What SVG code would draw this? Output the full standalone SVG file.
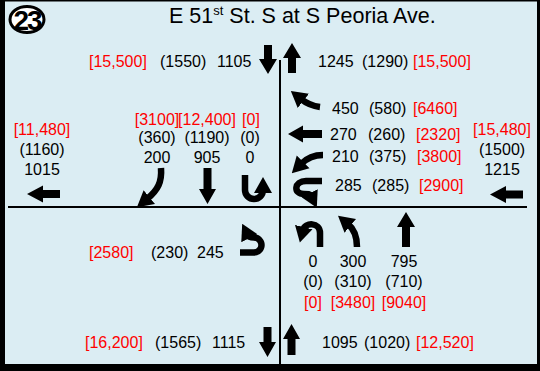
<svg xmlns="http://www.w3.org/2000/svg" width="540" height="371" viewBox="0 0 540 371">
<style>
text{font-family:"Liberation Sans",Arial,Helvetica,sans-serif;font-size:16px;fill:#000}
.r{fill:#ff0000}
.m{text-anchor:middle}
.curve{fill:none;stroke:#000;stroke-width:6.5;marker-end:url(#ah)}
.sa{fill:#000}
.rd{stroke:#000;stroke-width:2;fill:none}
</style>
<defs>
<marker id="ah" markerUnits="userSpaceOnUse" viewBox="0 0 16 18" markerWidth="16" markerHeight="19" refX="3" refY="9" orient="auto">
<path d="M0,0 L16,9 L0,18 z" fill="#000"/>
</marker>
</defs>
<rect x="0" y="0" width="540" height="371" fill="#000"/>
<rect x="5" y="1.5" width="532" height="362.5" fill="#dbedf3"/>
<g id="badge">
<ellipse cx="27" cy="19.5" rx="17" ry="13" fill="#fff" stroke="#000" stroke-width="3"/>
<text x="27" y="30" class="m" style="font-size:28px;font-weight:bold;letter-spacing:-2px">23</text>
</g>
<g id="title">
<text x="169" y="23" style="font-size:21.5px">E 51<tspan style="font-size:13px" dy="-8">st</tspan><tspan dy="8"> St. S at S Peoria Ave.</tspan></text>
</g>
<g id="connectors">
<line class="rd" x1="280" y1="60" x2="280" y2="364"/>
<line class="rd" x1="8" y1="207" x2="527" y2="207"/>
<polygon class="sa" points="264,45 272,45 272,59 277,59 268,74 259,59 264,59"/>
<polygon class="sa" points="292,43 301,58 296,58 296,73 288,73 288,58 283,58"/>
<polygon class="sa" points="263.5,327 271.5,327 271.5,342 276,342 267.5,357 259,342 263.5,342"/>
<polygon class="sa" points="291.5,324 300,339 295.5,339 295.5,355 287.5,355 287.5,339 283,339"/>
<polygon class="sa" points="27,194 43,185.5 43,190 60,190 60,198 43,198 43,202.5"/>
<polygon class="sa" points="490,194.5 506,186 506,190.5 523,190.5 523,198.5 506,198.5 506,203"/>
<polygon class="sa" points="288,134 303,125.5 303,130 322,130 322,138 303,138 303,142.5"/>
<polygon class="sa" points="203.5,168 211.5,168 211.5,189 216,189 207.5,204 199,189 203.5,189"/>
<polygon class="sa" points="406,212 415,227 410,227 410,247 402,247 402,227 397,227"/>
<path class="curve" d="M161,168 C162,182 158,190 147,199"/>
<path class="curve" d="M245,175 L245,190 A9,9 0 0 0 263,190"/>
<path class="curve" d="M320,107 C312,106 306,103 301,99"/>
<path class="curve" d="M323,155 C315,155 307,158 301,164"/>
<path class="curve" d="M322,181 L306,181 C294,181 293,194 304,194 C308,194 310,194 311,196"/>
<path class="curve" d="M240,252.5 L254,252.5 A7.5,7.5 0 0 0 254,237.5 Q249,237.5 248,235.5"/>
<path class="curve" d="M320,247 L320,233 C320,222 305,222 303,230"/>
<path class="curve" d="M357,247 C357,236 354,229 348,224"/>
</g>
<g id="north-labels">
<text x="89" y="67" class="r">[15,500]</text>
<text x="160" y="67">(1550)</text>
<text x="217" y="67">1105</text>
<text x="318" y="67">1245</text>
<text x="362" y="67">(1290)</text>
<text x="413" y="67" class="r">[15,500]</text>
</g>
<g id="west-depart">
<text x="42" y="135" class="m r">[11,480]</text>
<text x="42" y="155" class="m">(1160)</text>
<text x="42" y="175" class="m">1015</text>
</g>
<g id="east-depart">
<text x="502" y="135" class="m r">[15,480]</text>
<text x="502" y="155" class="m">(1500)</text>
<text x="502" y="175" class="m">1215</text>
</g>
<g id="sb-approach">
<text x="157" y="125" class="m r">[3100]</text>
<text x="207" y="125" class="m r">[12,400]</text>
<text x="251" y="125" class="m r">[0]</text>
<text x="157" y="143" class="m">(360)</text>
<text x="207" y="143" class="m">(1190)</text>
<text x="250" y="143" class="m">(0)</text>
<text x="157" y="163" class="m">200</text>
<text x="207" y="163" class="m">905</text>
<text x="250" y="163" class="m">0</text>
</g>
<g id="wb-approach">
<text x="332" y="114">450</text>
<text x="369" y="114">(580)</text>
<text x="413" y="114" class="r">[6460]</text>
<text x="330" y="140">270</text>
<text x="368" y="140">(260)</text>
<text x="416" y="140" class="r">[2320]</text>
<text x="332" y="162">210</text>
<text x="369" y="162">(375)</text>
<text x="417" y="162" class="r">[3800]</text>
<text x="335" y="191">285</text>
<text x="372" y="191">(285)</text>
<text x="419" y="191" class="r">[2900]</text>
</g>
<g id="eb-approach">
<text x="89" y="258" class="r">[2580]</text>
<text x="151" y="258">(230)</text>
<text x="197" y="258">245</text>
</g>
<g id="nb-approach">
<text x="313" y="267" class="m">0</text>
<text x="353" y="267" class="m">300</text>
<text x="404" y="267" class="m">795</text>
<text x="313" y="287" class="m">(0)</text>
<text x="353" y="287" class="m">(310)</text>
<text x="404" y="287" class="m">(710)</text>
<text x="313" y="308" class="m r">[0]</text>
<text x="353" y="308" class="m r">[3480]</text>
<text x="404" y="308" class="m r">[9040]</text>
</g>
<g id="south-labels">
<text x="85" y="348" class="r">[16,200]</text>
<text x="155" y="348">(1565)</text>
<text x="212" y="348">1115</text>
<text x="322" y="348">1095</text>
<text x="364" y="348">(1020)</text>
<text x="416" y="348" class="r">[12,520]</text>
</g>
</svg>
